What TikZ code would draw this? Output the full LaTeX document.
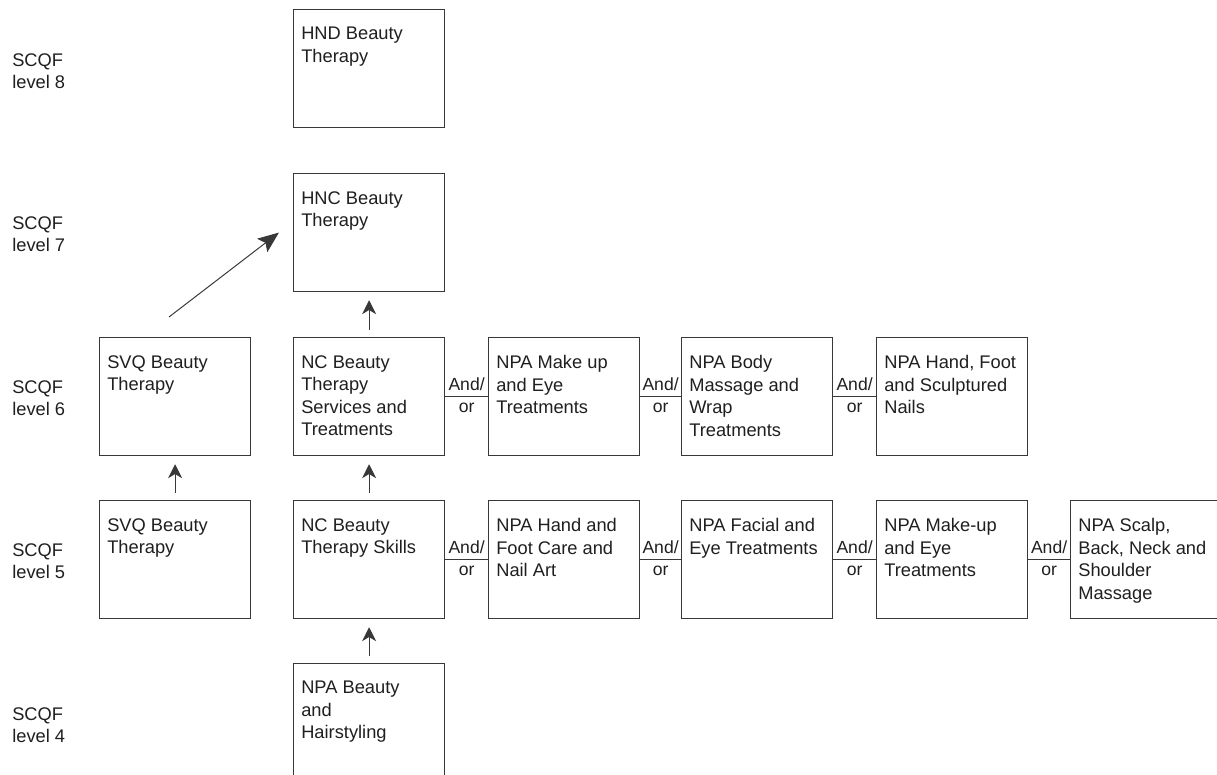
\documentclass[tikz,border=0pt]{standalone}
\usepackage{fontspec}
\setmainfont{Liberation Sans}
\usetikzlibrary{arrows.meta,positioning}
\colorlet{penColor}{black!78}
\colorlet{textColor}{black!88}
\tikzset{
  qual/.style={draw=penColor, line width=0.8pt, rectangle, anchor=north west,
    minimum width=3.775cm, minimum height=2.95cm, inner sep=0pt},
  qualtext/.style={anchor=north west, align=left, inner sep=0pt, text=textColor,
    font=\fontsize{13}{16}\selectfont, xshift=5.7pt, yshift=-12.8pt},
  scqf/.style={anchor=north west, align=left, inner sep=0pt, text=textColor,
    font=\fontsize{13}{16}\selectfont},
  andor/.style={text=textColor, font=\fontsize{12.5}{14}\selectfont, inner sep=4pt},
  link/.style={draw=penColor, line width=0.7pt},
  uparrow/.style={link, -{Stealth[length=10pt,width=10pt,inset=3pt]},
    shorten <=5pt, shorten >=5.7pt},
}

\begin{document}
\begin{tikzpicture}[x=0.025cm, y=-0.025cm]
				\clip (0,0) rectangle (1217,775);
				% level labels
				\node [scqf] (lvl8) at (12,53) {SCQF\\level 8};
				\node [scqf] (lvl7) at (12,216) {SCQF\\level 7};
				\node [scqf] (lvl6) at (12,380) {SCQF\\level 6};
				\node [scqf] (lvl5) at (12,543) {SCQF\\level 5};
				\node [scqf] (lvl4) at (12,707) {SCQF\\level 4};
				% level 8 and 7
				\node [qual] (hnd) at (293,9) {};
				\node [qualtext] (hndtext) at (hnd.north west) {HND Beauty\\Therapy};
				\node [qual] (hnc) at (293,173) {};
				\node [qualtext] (hnctext) at (hnc.north west) {HNC Beauty\\Therapy};
				% level 6
				\node [qual] (svq6) at (99,337) {};
				\node [qualtext] (svq6text) at (svq6.north west) {SVQ Beauty\\Therapy};
				\node [qual] (nc6) at (293,337) {};
				\node [qualtext] (nc6text) at (nc6.north west) {NC Beauty\\Therapy\\Services and\\Treatments};
				\node [qual] (npa6a) at (488,337) {};
				\node [qualtext] (npa6atext) at (npa6a.north west) {NPA Make up\\and Eye\\Treatments};
				\node [qual] (npa6b) at (681,337) {};
				\node [qualtext] (npa6btext) at (npa6b.north west) {NPA Body\\Massage and\\Wrap\\Treatments};
				\node [qual] (npa6c) at (876,337) {};
				\node [qualtext] (npa6ctext) at (npa6c.north west) {NPA Hand, Foot\\and Sculptured\\Nails};
				% level 5
				\node [qual] (svq5) at (99,500) {};
				\node [qualtext] (svq5text) at (svq5.north west) {SVQ Beauty\\Therapy};
				\node [qual] (nc5) at (293,500) {};
				\node [qualtext] (nc5text) at (nc5.north west) {NC Beauty\\Therapy Skills};
				\node [qual] (npa5a) at (488,500) {};
				\node [qualtext] (npa5atext) at (npa5a.north west) {NPA Hand and\\Foot Care and\\Nail Art};
				\node [qual] (npa5b) at (681,500) {};
				\node [qualtext] (npa5btext) at (npa5b.north west) {NPA Facial and\\Eye Treatments};
				\node [qual] (npa5c) at (876,500) {};
				\node [qualtext] (npa5ctext) at (npa5c.north west) {NPA Make-up\\and Eye\\Treatments};
				\node [qual] (npa5d) at (1070,500) {};
				\node [qualtext] (npa5dtext) at (npa5d.north west) {NPA Scalp,\\Back, Neck and\\Shoulder\\Massage};
				% level 4
				\node [qual] (npa4) at (293,663) {};
				\node [qualtext] (npa4text) at (npa4.north west) {NPA Beauty\\and\\Hairstyling};
				% progression arrows
				\draw [uparrow] (npa4.north) -- (nc5.south);
				\draw [uparrow] (svq5.north) -- (svq6.south);
				\draw [uparrow] (nc5.north) -- (nc6.south);
				\draw [uparrow] (nc6.north) -- (hnc.south);
				\coordinate (diagstart) at (169,317);
				\draw [link, -{Stealth[length=15pt,width=12pt,inset=3pt]}] (diagstart) -- ([xshift=-10pt]hnc.west);
				% and/or links
				\draw [link] (nc6) -- node [andor, above] (ao6a) {And/} node [andor, below] (or6a) {or} (npa6a);
				\draw [link] (npa6a) -- node [andor, above] (ao6b) {And/} node [andor, below] (or6b) {or} (npa6b);
				\draw [link] (npa6b) -- node [andor, above] (ao6c) {And/} node [andor, below] (or6c) {or} (npa6c);
				\draw [link] (nc5) -- node [andor, above] (ao5a) {And/} node [andor, below] (or5a) {or} (npa5a);
				\draw [link] (npa5a) -- node [andor, above] (ao5b) {And/} node [andor, below] (or5b) {or} (npa5b);
				\draw [link] (npa5b) -- node [andor, above] (ao5c) {And/} node [andor, below] (or5c) {or} (npa5c);
				\draw [link] (npa5c) -- node [andor, above] (ao5d) {And/} node [andor, below] (or5d) {or} (npa5d);
\end{tikzpicture}
\end{document}
